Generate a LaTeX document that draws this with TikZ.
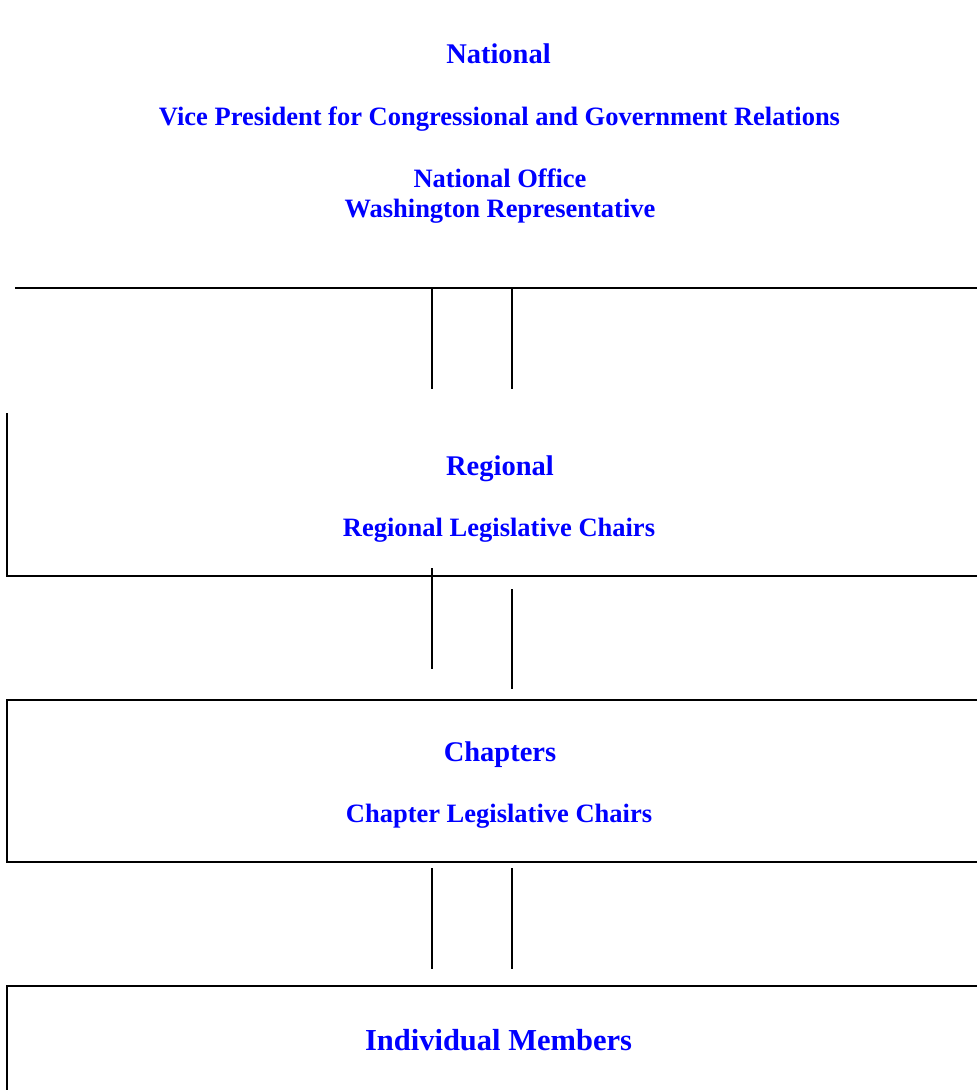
\documentclass[tikz,border=0pt]{standalone}
\usepackage{fontspec}
\setmainfont{Liberation Serif}
\definecolor{txtblue}{RGB}{0,0,255}
\tikzset{
  lbl/.style={anchor=base, text=txtblue, font=\fontsize{26.5}{30}\selectfont\bfseries, inner sep=0pt},
  headlbl/.style={anchor=base, text=txtblue, font=\fontsize{28.5}{32}\selectfont\bfseries, inner sep=0pt},
  biglbl/.style={anchor=base, text=txtblue, font=\fontsize{30.5}{34}\selectfont\bfseries, inner sep=0pt},
  thick line/.style={line width=2pt, line cap=rect},
  thin line/.style={line width=1.3pt},
}
\begin{document}
\begin{tikzpicture}[x=1pt,y=-1pt]
\useasboundingbox (0,0) rectangle (977,1090);
% texts
\node[headlbl] (nat) at (498.5,63) {National};
\node[lbl] (vp) at (499.5,125) {Vice President for Congressional and Government Relations};
\node[lbl] (no) at (500,187) {National Office};
\node[lbl] (wr) at (500,217) {Washington Representative};
\node[headlbl] (reg) at (500,475.5) {Regional};
\node[lbl] (rlc) at (499,536) {Regional Legislative Chairs};
\node[headlbl] (chp) at (500,761) {Chapters};
\node[lbl] (clc) at (499,822) {Chapter Legislative Chairs};
\node[biglbl] (im) at (498.5,1050) {Individual Members};
% coordinates
\coordinate (tl1) at (16,288);
\coordinate (tl2) at (977,288);
\coordinate (a1) at (432,289); \coordinate (a2) at (432,389);
\coordinate (b1) at (512,289); \coordinate (b2) at (512,389);
\coordinate (r1) at (7,413); \coordinate (r2) at (7,576); \coordinate (r3) at (977,576);
\coordinate (c1) at (432,568); \coordinate (c2) at (432,669);
\coordinate (d1) at (512,589); \coordinate (d2) at (512,689);
\coordinate (ch1) at (977,700); \coordinate (ch2) at (7,700); \coordinate (ch3) at (7,862); \coordinate (ch4) at (977,862);
\coordinate (e1) at (432,868); \coordinate (e2) at (432,969);
\coordinate (f1) at (512,868); \coordinate (f2) at (512,969);
\coordinate (i1) at (977,986); \coordinate (i2) at (7,986); \coordinate (i3) at (7,1092);
% lines
\draw[thick line] (tl1) -- (tl2);
\draw[thin line] (a1) -- (a2);
\draw[thin line] (b1) -- (b2);
\draw[thin line] (r1) -- (r2);
\draw[thick line] (r2) -- (r3);
\draw[thin line] (c1) -- (c2);
\draw[thin line] (d1) -- (d2);
\draw[thick line] (ch1) -- (ch2) -- (ch3) -- (ch4);
\draw[thin line] (e1) -- (e2);
\draw[thin line] (f1) -- (f2);
\draw[thick line] (i1) -- (i2) -- (i3);
\end{tikzpicture}
\end{document}
